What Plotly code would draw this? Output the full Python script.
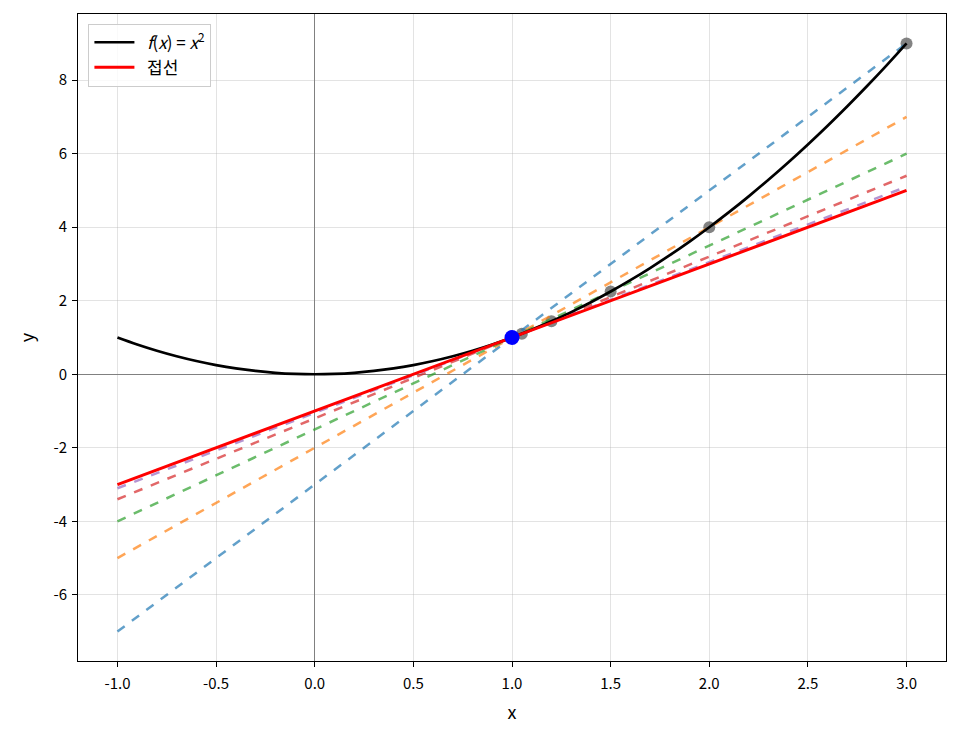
import plotly.graph_objects as go

# f(x) = x^2 curve samples
curve_x = [-1.0, -0.9, -0.8, -0.7, -0.6, -0.5, -0.4, -0.3, -0.2, -0.1, 0.0,
           0.1, 0.2, 0.3, 0.4, 0.5, 0.6, 0.7, 0.8, 0.9, 1.0,
           1.1, 1.2, 1.3, 1.4, 1.5, 1.6, 1.7, 1.8, 1.9, 2.0,
           2.1, 2.2, 2.3, 2.4, 2.5, 2.6, 2.7, 2.8, 2.9, 3.0]
curve_y = [1.0, 0.81, 0.64, 0.49, 0.36, 0.25, 0.16, 0.09, 0.04, 0.01, 0.0,
           0.01, 0.04, 0.09, 0.16, 0.25, 0.36, 0.49, 0.64, 0.81, 1.0,
           1.21, 1.44, 1.69, 1.96, 2.25, 2.56, 2.89, 3.24, 3.61, 4.0,
           4.41, 4.84, 5.29, 5.76, 6.25, 6.76, 7.29, 7.84, 8.41, 9.0]

# secant lines: endpoints at x=-1 and x=3
line_x = [-1.0, 3.0]
secant_y = [
    [-7.0, 9.0],
    [-5.0, 7.0],
    [-4.0, 6.0],
    [-3.4, 5.4],
    [-3.1, 5.1],
]
secant_colors = ["rgba(31,119,180,0.7)", "rgba(255,127,14,0.7)", "rgba(44,160,44,0.7)",
                 "rgba(214,39,40,0.7)", "rgba(148,103,189,0.7)"]

# tangent at x=1
tangent_y = [-3.0, 5.0]

# secant points on curve
pts_x = [3.0, 2.0, 1.5, 1.2, 1.05]
pts_y = [9.0, 4.0, 2.25, 1.44, 1.1025]

# tangent point
tp_x = [1.0]
tp_y = [1.0]

x_ticks = [-1.0, -0.5, 0.0, 0.5, 1.0, 1.5, 2.0, 2.5, 3.0]
x_labels = ["-1.0", "-0.5", "0.0", "0.5", "1.0", "1.5", "2.0", "2.5", "3.0"]
y_ticks = [-6, -4, -2, 0, 2, 4, 6, 8]
y_labels = ["-6", "-4", "-2", "0", "2", "4", "6", "8"]

FONT = "Noto Sans CJK KR"

fig = go.Figure()

fig.add_trace(go.Scatter(x=pts_x, y=pts_y, mode="markers",
                         marker=dict(size=12, color="rgba(100,100,100,0.8)"),
                         showlegend=False))

for ys, c in zip(secant_y, secant_colors):
    fig.add_trace(go.Scatter(x=line_x, y=ys, mode="lines",
                             line=dict(color=c, width=2.5, dash="dash"),
                             showlegend=False))

fig.add_trace(go.Scatter(x=curve_x, y=curve_y, mode="lines",
                         line=dict(color="black", width=2.7, shape="spline"),
                         name="&nbsp;&nbsp;<i>f</i>(<i>x</i>) = <i>x</i><sup>2</sup>"))

fig.add_trace(go.Scatter(x=line_x, y=tangent_y, mode="lines",
                         line=dict(color="red", width=3),
                         name="&nbsp;&nbsp;접선"))

fig.add_trace(go.Scatter(x=tp_x, y=tp_y, mode="markers",
                         marker=dict(size=15, color="blue"),
                         showlegend=False))

axis_common = dict(
    showline=True, linecolor="black", linewidth=1, mirror=True,
    ticks="outside", ticklen=5, tickcolor="black", tickwidth=1,
    showgrid=True, gridcolor="rgba(176,176,176,0.35)", gridwidth=1,
    zeroline=True, zerolinecolor="gray", zerolinewidth=1,
    tickfont=dict(family=FONT, size=15, color="black"),
)

fig.update_layout(
    width=952, height=731,
    margin=dict(l=70, r=14, t=6, b=78),
    plot_bgcolor="white", paper_bgcolor="white",
    font=dict(family=FONT, color="black"),
    xaxis=dict(range=[-1.2, 3.2], tickvals=x_ticks, ticktext=x_labels, ticklabelstandoff=4,
               title=dict(text="x", font=dict(size=18, family=FONT), standoff=14), **axis_common),
    yaxis=dict(range=[-7.8, 9.8], tickvals=y_ticks, ticktext=y_labels, ticklabelstandoff=2,
               title=dict(text="y", font=dict(size=18, family=FONT), standoff=14), **axis_common),
    legend=dict(x=0.012, y=0.985, xanchor="left", yanchor="top",
                bgcolor="rgba(255,255,255,0.8)", bordercolor="#cccccc", borderwidth=1,
                font=dict(family=FONT, size=17), itemwidth=40, tracegroupgap=2),
)

fig.write_html("out.html")
